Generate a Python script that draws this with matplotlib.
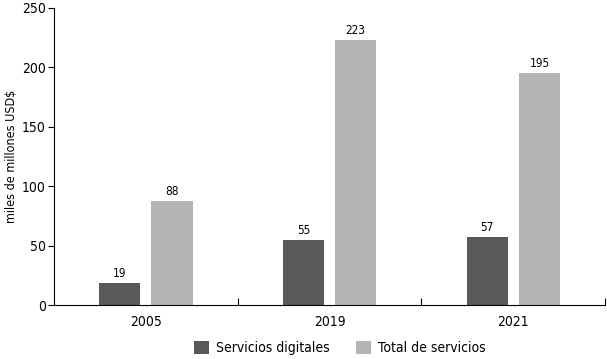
import numpy as np
import matplotlib.pyplot as plt

plt.rcParams['font.family'] = ['DejaVu Sans']
plt.rcParams['font.stretch'] = 'condensed'

years = ["2005", "2019", "2021"]
digitales = [19, 55, 57]
total = [88, 223, 195]

dark = "#58595b"
light = "#b1b3b4"

fig = plt.figure(figsize=(6.07, 3.59), dpi=100)
ax = fig.add_axes([0.089, 0.150, 0.908, 0.828])

x = np.arange(len(years))
w = 0.224
off = 0.142

b1 = ax.bar(x - off, digitales, w, color=dark, label="Servicios digitales")
b2 = ax.bar(x + off, total, w, color=light, label="Total de servicios")

for bars, vals in ((b1, digitales), (b2, total)):
    for rect, v in zip(bars, vals):
        ax.text(rect.get_x() + rect.get_width() / 2, v + 2.5, str(v),
                ha="center", va="bottom", fontsize=8.5)

ax.set_xlim(-0.5, 2.5)
ax.set_ylim(0, 250)
ax.set_yticks(range(0, 251, 50))
ax.set_xticks([0.5, 1.5, 2.5])
ax.set_xticklabels([])
ax.set_xticks(x, minor=True)
ax.set_xticklabels(years, minor=True)
ax.tick_params(axis="x", which="minor", length=0, labelsize=10, pad=7)
ax.tick_params(axis="x", which="major", length=5, direction="in")
ax.tick_params(axis="y", length=4, labelsize=10, pad=2)

for s in ("top", "right"):
    ax.spines[s].set_visible(False)
ax.spines["left"].set_linewidth(0.8)
ax.spines["bottom"].set_linewidth(0.8)

ax.set_ylabel("miles de millones USD$", fontsize=9, labelpad=3)

fig.legend(handles=[b1, b2], loc="center", bbox_to_anchor=(0.56, 0.03),
           ncol=2, frameon=False, fontsize=10, handlelength=1.1,
           handleheight=1.1, columnspacing=1.9, handletextpad=0.5)

fig.savefig("out.png", dpi=100)
